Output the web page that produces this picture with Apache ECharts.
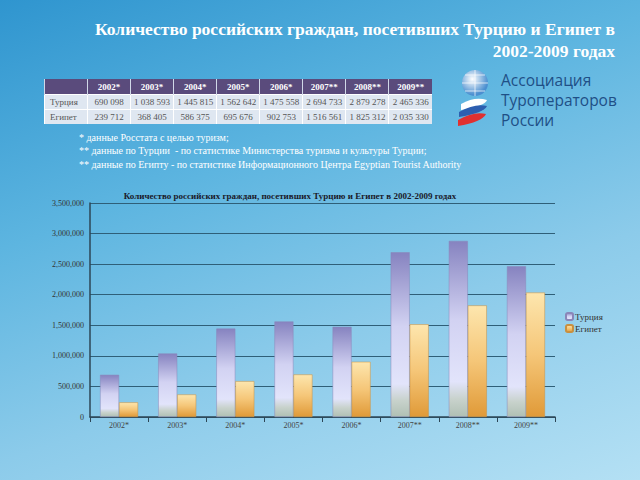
<!DOCTYPE html>
<html><head><meta charset="utf-8">
<script src="https://cdn.jsdelivr.net/npm/echarts@6/dist/echarts.min.js"></script>
<style>
html,body{margin:0;padding:0;width:640px;height:480px;overflow:hidden;}
#bg{position:absolute;left:0;top:0;width:640px;height:480px;background:linear-gradient(160deg,#2f95cf 0%,#5db5e0 35%,#8ccbea 65%,#b4e0f4 100%);}
#chart{position:absolute;left:0;top:0;width:640px;height:480px;}
#tbl{position:absolute;left:44px;top:79px;width:388px;table-layout:fixed;border-collapse:collapse;font-family:"Liberation Serif",serif;font-size:9px;}
#tbl td,#tbl th{height:14px;padding:0 1px;text-align:center;white-space:nowrap;}
#tbl th{background:#5a4b7c;color:#fff;font-weight:bold;border-left:1px solid #d0d8e8;height:15px;}
#tbl td{background:#dfe7f1;color:#555;border-top:1px solid #fff;border-left:1px solid #fff;}
#tbl td.l{text-align:left;padding-left:5px;}
#logo{position:absolute;left:453px;top:66px;width:180px;height:66px;}
#logotext{position:absolute;left:48px;top:4px;font-family:"Open Sans",sans-serif;font-size:15.5px;line-height:20px;color:#1f4f86;}
</style></head>
<body>
<div id="bg"></div>
<div id="chart"></div>
<table id="tbl"><thead><tr id="hdr"></tr></thead><tbody id="body"></tbody></table>
<div id="logo">
<svg width="48" height="66" style="position:absolute;left:0;top:0">
<defs><radialGradient id="g" cx="40%" cy="35%" r="60%"><stop offset="0" stop-color="#ffffff"/><stop offset="1" stop-color="#4b8fd0"/></radialGradient></defs>
<circle cx="22" cy="17" r="13" fill="url(#g)"/>
<path d="M9 17 h26 M22 4 v26 M12 9 h20 M12 25 h20" stroke="#ffffff" stroke-width="1" fill="none" opacity="0.7"/>
<path d="M8 38 q14 -8 26 -4 q-2 6 -26 10 z" fill="#ffffff"/>
<path d="M6 46 q16 -9 28 -6 q-3 7 -28 11 z" fill="#2d5fb0"/>
<path d="M5 54 q16 -9 28 -6 q-4 8 -28 12 z" fill="#e03030"/>
</svg>
<div id="logotext">Ассоциация<br>Туроператоров<br>России</div>
</div>
<script>
var categories = ['2002*','2003*','2004*','2005*','2006*','2007**','2008**','2009**'];
var seriesNames = ['Турция','Египет'];
var turkey = [690098,1038593,1445815,1562642,1475558,2694733,2879278,2465336];
var egypt = [239712,368405,586375,695676,902753,1516561,1825312,2035330];
var yTicks = [0,500000,1000000,1500000,2000000,2500000,3000000,3500000];
var mainTitle = 'Количество российских граждан, посетивших Турцию и Египет в';
var mainTitle2 = '2002-2009 годах';
var chartTitle = 'Количество российских граждан, посетивших Турцию и Египет в 2002-2009 годах';
var notes = ['* данные Росстата с целью туризм;','** данные по Турции  - по статистике Министерства туризма и культуры Турции;','** данные по Египту - по статистике Информационного Центра Egyptian Tourist Authority'];

function sp(n){return String(n).replace(/\B(?=(\d{3})+(?!\d))/g,' ');}
function cm(n){return String(n).replace(/\B(?=(\d{3})+(?!\d))/g,',');}

var hdr = document.getElementById('hdr');
var h0 = document.createElement('th'); h0.style.width='40px'; hdr.appendChild(h0);
categories.forEach(function(c){var th=document.createElement('th');th.textContent=c;hdr.appendChild(th);});
var body = document.getElementById('body');
[[seriesNames[0],turkey],[seriesNames[1],egypt]].forEach(function(r){
  var tr=document.createElement('tr');
  var td=document.createElement('td');td.className='l';td.textContent=r[0];tr.appendChild(td);
  r[1].forEach(function(v){var t=document.createElement('td');t.textContent=sp(v);tr.appendChild(t);});
  body.appendChild(tr);
});

var chart = echarts.init(document.getElementById('chart'), null, {renderer:'svg'});
var serif = '"Liberation Serif", "DejaVu Serif", serif';
chart.setOption({
  backgroundColor:'transparent',
  animation:false,
  title:[
    {text:mainTitle, right:20, top:15, textStyle:{color:'#fff',fontFamily:serif,fontSize:17.5,fontWeight:'bold'}},
    {text:mainTitle2, right:20, top:37, textStyle:{color:'#fff',fontFamily:serif,fontSize:17.5,fontWeight:'bold'}},
    {text:chartTitle, left:285, textAlign:'center', top:186, textStyle:{color:'#1a1a2a',fontFamily:serif,fontSize:9,fontWeight:'bold'}}
  ],
  graphic: notes.map(function(t,i){
    return {type:'text', left:79, top:132+i*13.5, style:{text:t, fill:'#ffffff', font:'10px '+serif}};
  }),
  legend:{
    orient:'vertical', left:560, top:307, itemWidth:7, itemHeight:7, itemGap:3,
    textStyle:{fontFamily:serif,fontSize:9,color:'#333',padding:[0,0,0,-3]},
    data:seriesNames
  },
  grid:{left:90, right:85, top:203, bottom:63},
  xAxis:{
    type:'category', data:categories,
    axisLine:{lineStyle:{color:'#2c4656',width:1.5}},
    axisTick:{show:true,lineStyle:{color:'#2c4656'}},
    axisLabel:{fontFamily:serif,fontSize:8,color:'#444',margin:4}
  },
  yAxis:{
    type:'value', min:0, max:3500000, interval:500000,
    axisLine:{show:true,lineStyle:{color:'#2c4656',width:1.5}},
    axisTick:{show:false},
    splitLine:{lineStyle:{color:'#2f5f78',width:1.2}},
    axisLabel:{fontFamily:serif,fontSize:8,color:'#333',margin:6,formatter:function(v){return cm(v);}}
  },
  series:[
    {name:seriesNames[0], type:'bar', data:turkey, barWidth:19, barGap:'0%',
     itemStyle:{borderColor:'#8a86b8',borderWidth:0.5,color:new echarts.graphic.LinearGradient(0,0,0,1,[
       {offset:0,color:'#8683c0'},{offset:0.45,color:'#d2d2f2'},{offset:0.8,color:'#e2e4fb'},{offset:0.9,color:'#c8d2cc'},{offset:1,color:'#b0c0b4'}])}},
    {name:seriesNames[1], type:'bar', data:egypt, barWidth:19,
     itemStyle:{borderColor:'#c99040',borderWidth:0.5,color:new echarts.graphic.LinearGradient(0,0,0,1,[
       {offset:0,color:'#fde6ae'},{offset:0.5,color:'#f5c678'},{offset:1,color:'#e09a38'}])}}
  ]
});
</script>
</body></html>
